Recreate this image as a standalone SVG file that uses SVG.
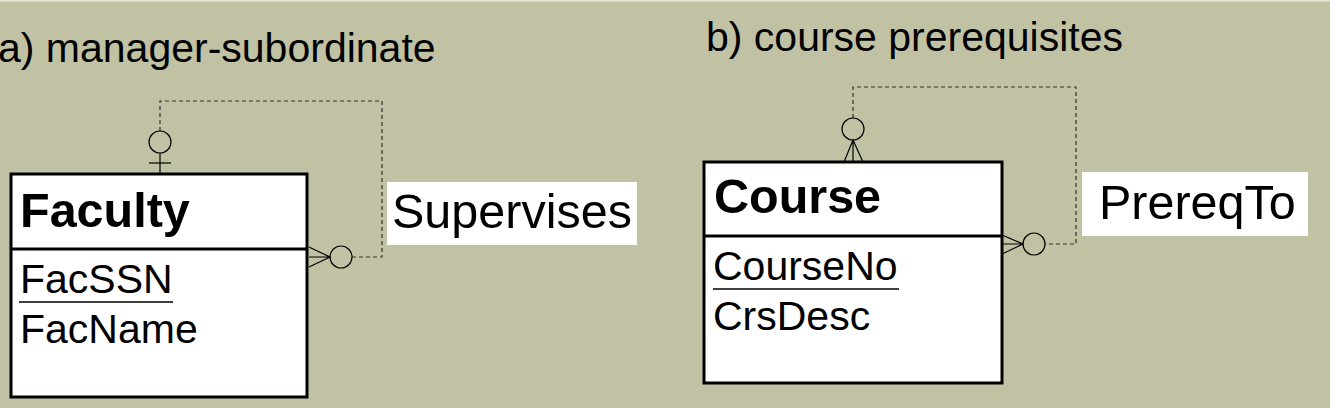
<svg xmlns="http://www.w3.org/2000/svg" width="1330" height="408" viewBox="0 0 1330 408">
  <style>
    .title { font-family: "Liberation Sans", Arial, sans-serif; font-size: 41px; fill: #000; }
    .ename { font-family: "Liberation Sans", Arial, sans-serif; font-size: 48.5px; font-weight: bold; fill: #000; }
    .attr { font-family: "Liberation Sans", Arial, sans-serif; font-size: 41px; fill: #000; }
    .rel { font-family: "Liberation Sans", Arial, sans-serif; font-size: 48.5px; fill: #000; }
    .box { fill: #fff; stroke: #000; stroke-width: 3; }
    .div { stroke: #000; stroke-width: 3; }
    .ul { stroke: #000; stroke-width: 1.5; }
    .dash { fill: none; stroke: #333; stroke-width: 1.2; stroke-dasharray: 4 3; }
    .sym { fill: none; stroke: #000; stroke-width: 1.2; }
    .lbl { fill: #fff; }
  </style>
  <rect x="0" y="0" width="1330" height="408" fill="#C1C2A4"/>
  <rect x="0" y="0" width="1330" height="1.5" fill="#E4E5D4"/>

  <text class="title" x="-2" y="62">a) manager-subordinate</text>
  <text class="title" x="706" y="51">b) course prerequisites</text>

  <g id="connectors">
    <!-- Supervises -->
    <path class="dash" d="M160,131 V101 H382 V257 H352"/>
    <line class="sym" x1="160" y1="153" x2="160" y2="174"/>
    <line class="sym" x1="149" y1="163" x2="171" y2="163"/>
    <circle class="sym" cx="160" cy="142" r="11"/>
    <circle class="sym" cx="341" cy="257" r="11"/>
    <path class="sym" d="M309,247 L330,257 L309,267 M309,257 H330"/>
    <!-- PrereqTo -->
    <path class="dash" d="M853,118 V87 H1076 V244 H1045"/>
    <circle class="sym" cx="853" cy="129" r="11"/>
    <path class="sym" d="M844,162 L853,140 L863,162 M853,140 V162"/>
    <circle class="sym" cx="1034" cy="244" r="11"/>
    <path class="sym" d="M1002,235 L1023,244 L1002,254 M1002,244 H1023"/>
  </g>

  <g id="faculty">
    <rect class="box" x="11" y="174" width="296" height="223"/>
    <line class="div" x1="11" y1="249" x2="307" y2="249"/>
    <text class="ename" x="20" y="227">Faculty</text>
    <text class="attr" x="20" y="293">FacSSN</text>
    <line class="ul" x1="19" y1="302" x2="173" y2="302"/>
    <text class="attr" x="20" y="343">FacName</text>
  </g>

  <g id="supervises">
    <rect class="lbl" x="387" y="182" width="250" height="63"/>
    <text class="rel" x="392" y="228">Supervises</text>
  </g>

  <g id="course">
    <rect class="box" x="704" y="162" width="298" height="221"/>
    <line class="div" x1="704" y1="236" x2="1002" y2="236"/>
    <text class="ename" x="714" y="213">Course</text>
    <text class="attr" x="713" y="280">CourseNo</text>
    <line class="ul" x1="713" y1="289" x2="899" y2="289"/>
    <text class="attr" x="713" y="330">CrsDesc</text>
  </g>

  <g id="prereqto">
    <rect class="lbl" x="1082" y="172" width="226" height="64"/>
    <text class="rel" x="1099" y="219">PrereqTo</text>
  </g>
</svg>
